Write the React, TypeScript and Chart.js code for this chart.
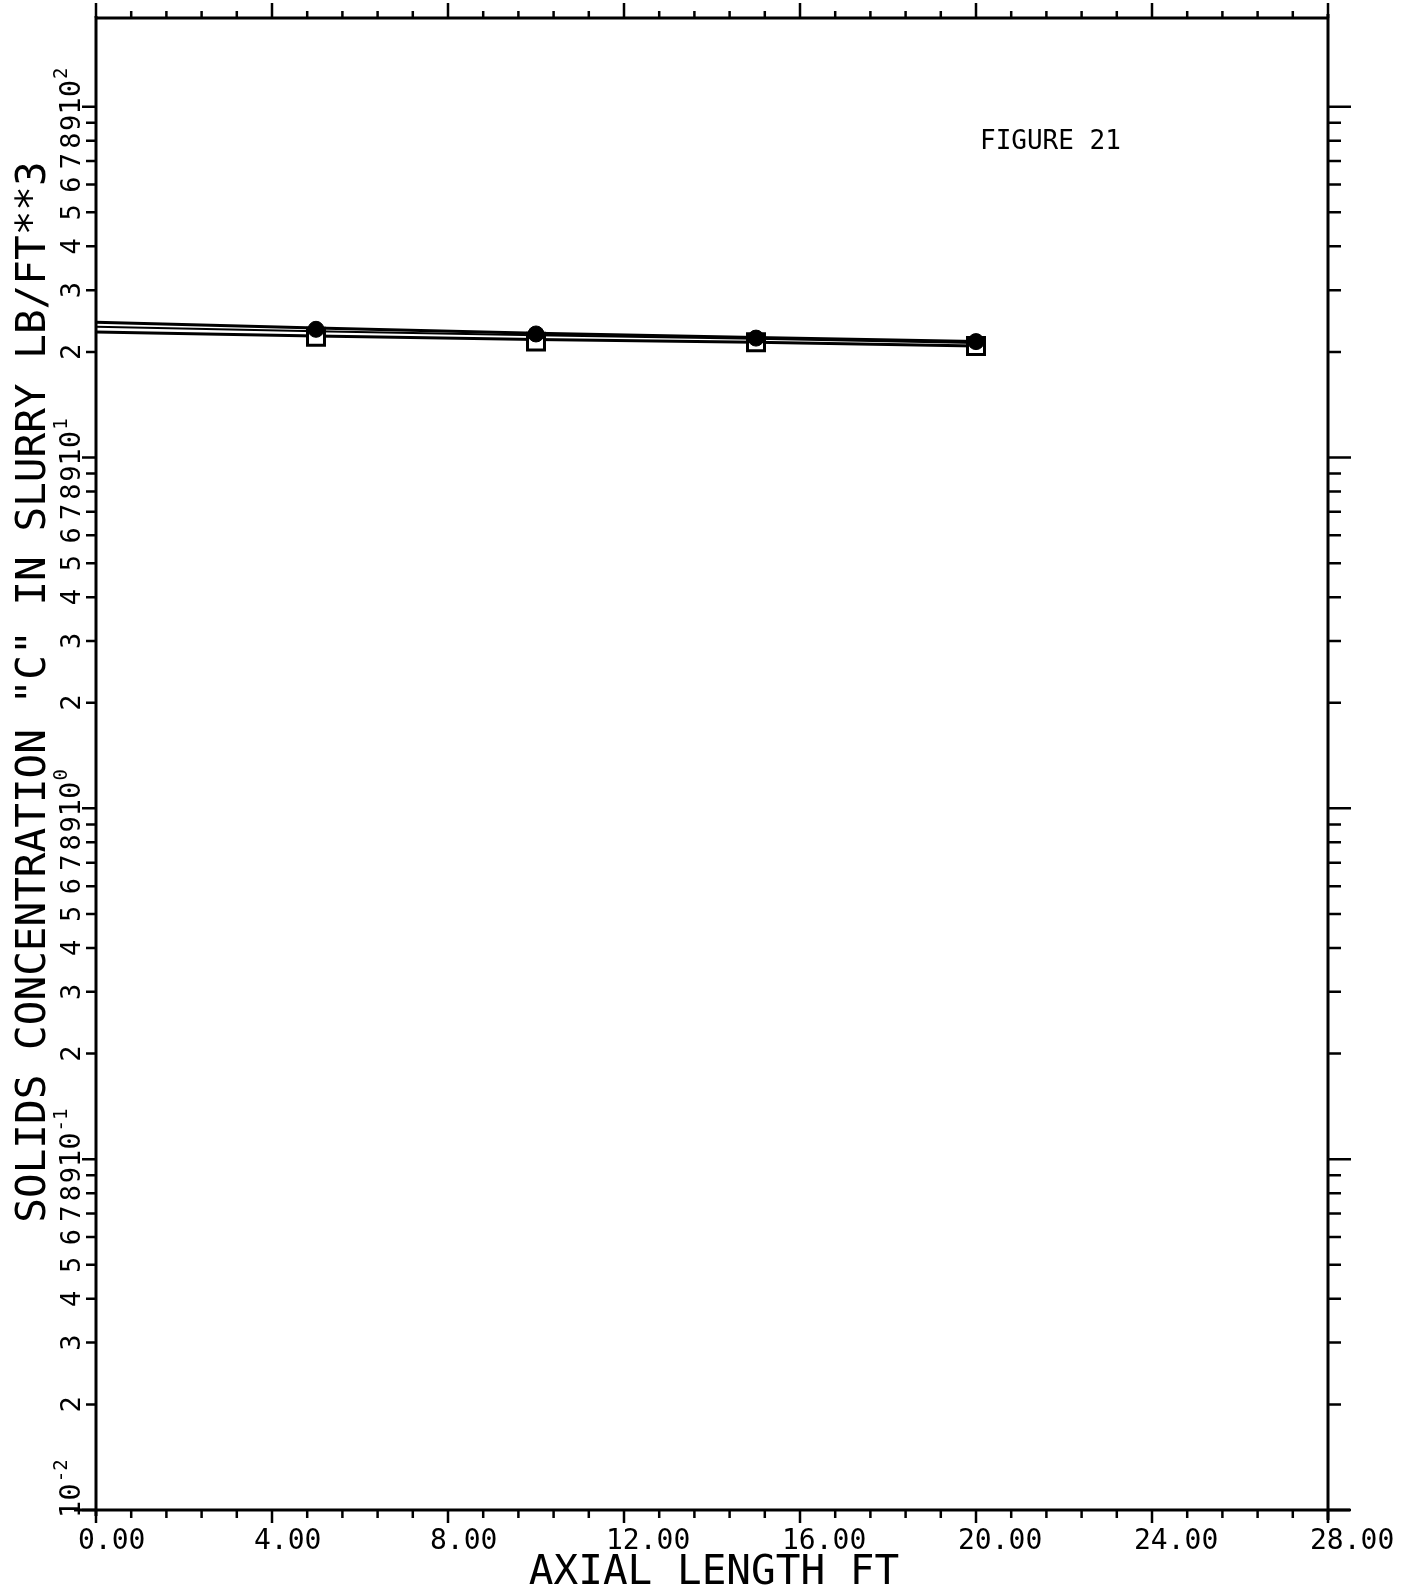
import { useEffect, useRef } from "react";
import { Chart, registerables } from "chart.js";

Chart.register(...registerables);

// ---- data ----
const axialLengthFt = [0, 5, 10, 15, 20];
const markerLengthFt = [5, 10, 15, 20];
const modelUpper = [24.3, 23.4, 22.6, 22.0, 21.4];
const modelMiddle = [23.6, 22.9, 22.3, 21.8, 21.2];
const modelLower = [22.8, 22.2, 21.7, 21.3, 20.8];
const measuredCircles = [23.2, 22.5, 21.9, 21.4];
const measuredSquares = [22.1, 21.4, 21.3, 20.8];

// ---- axes ----
const xMin = 0;
const xMax = 28;
const xMajorTicks = [0, 4, 8, 12, 16, 20, 24, 28];
const xMajorLabels = ["0.00", "4.00", "8.00", "12.00", "16.00", "20.00", "24.00", "28.00"];
const xMinorStep = 0.8;
const yMin = 0.01;
const yMax = 179;
const yDecades = [0.01, 0.1, 1, 10, 100];
const yDecadeBase = "10";
const yDecadeExponents = ["-2", "-1", "0", "1", "2"];
const yMantissas = [2, 3, 4, 5, 6, 7, 8, 9];
const yMantissaLabels = ["2", "3", "4", "5", "6", "7", "8", "9"];

const xTitle = "AXIAL LENGTH FT";
const yTitle = 'SOLIDS CONCENTRATION "C" IN SLURRY LB/FT**3';
const figureLabel = "FIGURE 21";

const FONT = '"DejaVu Sans Mono", "Liberation Mono", monospace';

const pts = (xs: number[], ys: number[]) => xs.map((x, i) => ({ x, y: ys[i] }));

const plotterAxes = {
  id: "plotterAxes",
  beforeDatasetsDraw(chart: any) {
    const { ctx, chartArea: a, scales } = chart;
    const xs = scales.x;
    const ys = scales.y;
    ctx.save();
    ctx.strokeStyle = "#000";
    ctx.fillStyle = "#000";
    ctx.lineCap = "butt";

    // frame
    ctx.lineWidth = 3;
    ctx.beginPath();
    ctx.moveTo(a.left, a.top);
    ctx.lineTo(a.right, a.top);
    ctx.moveTo(a.left - 22, a.bottom);
    ctx.lineTo(a.right + 22, a.bottom);
    ctx.moveTo(a.left, a.top - 2);
    ctx.lineTo(a.left, a.bottom + 6);
    ctx.moveTo(a.right, a.top - 4);
    ctx.lineTo(a.right, a.bottom + 10);
    ctx.stroke();

    // x ticks (top up, bottom down)
    ctx.lineWidth = 2.5;
    const nMinor = Math.round((xMax - xMin) / xMinorStep);
    for (let i = 0; i <= nMinor; i++) {
      const v = xMin + i * xMinorStep;
      const major = i % 5 === 0;
      const px = xs.getPixelForValue(v);
      ctx.beginPath();
      ctx.moveTo(px, a.top);
      ctx.lineTo(px, a.top - (major ? 15 : 7));
      ctx.moveTo(px, a.bottom);
      ctx.lineTo(px, a.bottom + (major ? 13 : 8));
      ctx.stroke();
    }

    // x labels
    ctx.font = `28px ${FONT}`;
    ctx.textAlign = "left";
    ctx.textBaseline = "alphabetic";
    xMajorTicks.forEach((v, i) => {
      const px = xs.getPixelForValue(v);
      ctx.fillText(xMajorLabels[i], px - 18, a.bottom + 39);
    });

    // y ticks
    type YT = { v: number; label: string; exp: string | null; major: boolean };
    const yTicks: YT[] = [];
    yDecades.forEach((d, di) => {
      yTicks.push({ v: d, label: yDecadeBase, exp: yDecadeExponents[di], major: true });
      if (di < yDecades.length - 1) {
        yMantissas.forEach((m, mi) => {
          yTicks.push({ v: m * d, label: yMantissaLabels[mi], exp: null, major: false });
        });
      }
    });
    ctx.lineWidth = 2.5;
    yTicks.forEach((t) => {
      const py = ys.getPixelForValue(t.v);
      ctx.beginPath();
      ctx.moveTo(a.left, py);
      ctx.lineTo(a.left - (t.major ? 14 : 10), py);
      ctx.moveTo(a.right, py);
      ctx.lineTo(a.right + (t.major ? 23 : 13), py);
      ctx.stroke();
    });

    // y labels (rotated, reading upward; first character centred on the tick)
    ctx.font = `27px ${FONT}`;
    const charW = ctx.measureText("0").width;
    yTicks.forEach((t) => {
      const py = ys.getPixelForValue(t.v);
      ctx.save();
      ctx.translate(a.left - 16, py + charW / 2);
      ctx.rotate(-Math.PI / 2);
      ctx.textAlign = "left";
      ctx.textBaseline = "alphabetic";
      if (t.exp !== null) {
        ctx.font = `29px ${FONT}`;
        ctx.fillText(t.label, 0, 0);
        const w = ctx.measureText(t.label).width;
        ctx.font = `19px ${FONT}`;
        ctx.fillText(t.exp, w + 1, -13);
      } else {
        ctx.font = `27px ${FONT}`;
        ctx.fillText(t.label, 0, 0);
      }
      ctx.restore();
    });

    // titles
    ctx.font = `41px ${FONT}`;
    ctx.textAlign = "center";
    ctx.fillText(xTitle, 714, 1584);
    ctx.save();
    ctx.translate(45, 692);
    ctx.rotate(-Math.PI / 2);
    ctx.fillText(yTitle, 0, 0);
    ctx.restore();

    ctx.font = `26px ${FONT}`;
    ctx.textAlign = "left";
    ctx.fillText(figureLabel, 980, 149);
    ctx.restore();
  },
};

export default function App() {
  const ref = useRef<HTMLCanvasElement | null>(null);
  useEffect(() => {
    if (!ref.current) return;
    const lineStyle = {
      borderColor: "#000",
      pointRadius: 0,
      showLine: true,
      fill: false,
      tension: 0,
    };
    const chart = new Chart(ref.current, {
      type: "scatter",
      data: {
        datasets: [
          {
            label: "measured (circle)",
            data: pts(markerLengthFt, measuredCircles),
            pointStyle: "circle",
            pointRadius: 8,
            backgroundColor: "#000",
            borderColor: "#000",
            borderWidth: 1,
            showLine: false,
          },
          {
            label: "measured (square)",
            data: pts(markerLengthFt, measuredSquares),
            pointStyle: "rect",
            pointRadius: 12,
            backgroundColor: "#fff",
            borderColor: "#000",
            borderWidth: 3,
            showLine: false,
          },
          { label: "model upper", data: pts(axialLengthFt, modelUpper), borderWidth: 3, ...lineStyle },
          { label: "model middle", data: pts(axialLengthFt, modelMiddle), borderWidth: 2, ...lineStyle },
          { label: "model lower", data: pts(axialLengthFt, modelLower), borderWidth: 3, ...lineStyle },
        ],
      },
      options: {
        responsive: false,
        animation: false,
        devicePixelRatio: 1,
        layout: { padding: { left: 96, right: 1420 - 1328, top: 18, bottom: 1592 - 1510 } },
        plugins: { legend: { display: false }, tooltip: { enabled: false } },
        scales: {
          x: { type: "linear", min: xMin, max: xMax, display: false, bounds: "data" },
          y: { type: "logarithmic", min: yMin, max: yMax, display: false, bounds: "data" },
        },
      },
      plugins: [plotterAxes],
    } as any);
    return () => chart.destroy();
  }, []);
  return (
    <div style={{ position: "absolute", left: 0, top: 0, width: 1420, height: 1592, background: "#fff" }}>
      <canvas ref={ref} width={1420} height={1592} style={{ display: "block" }} />
    </div>
  );
}
